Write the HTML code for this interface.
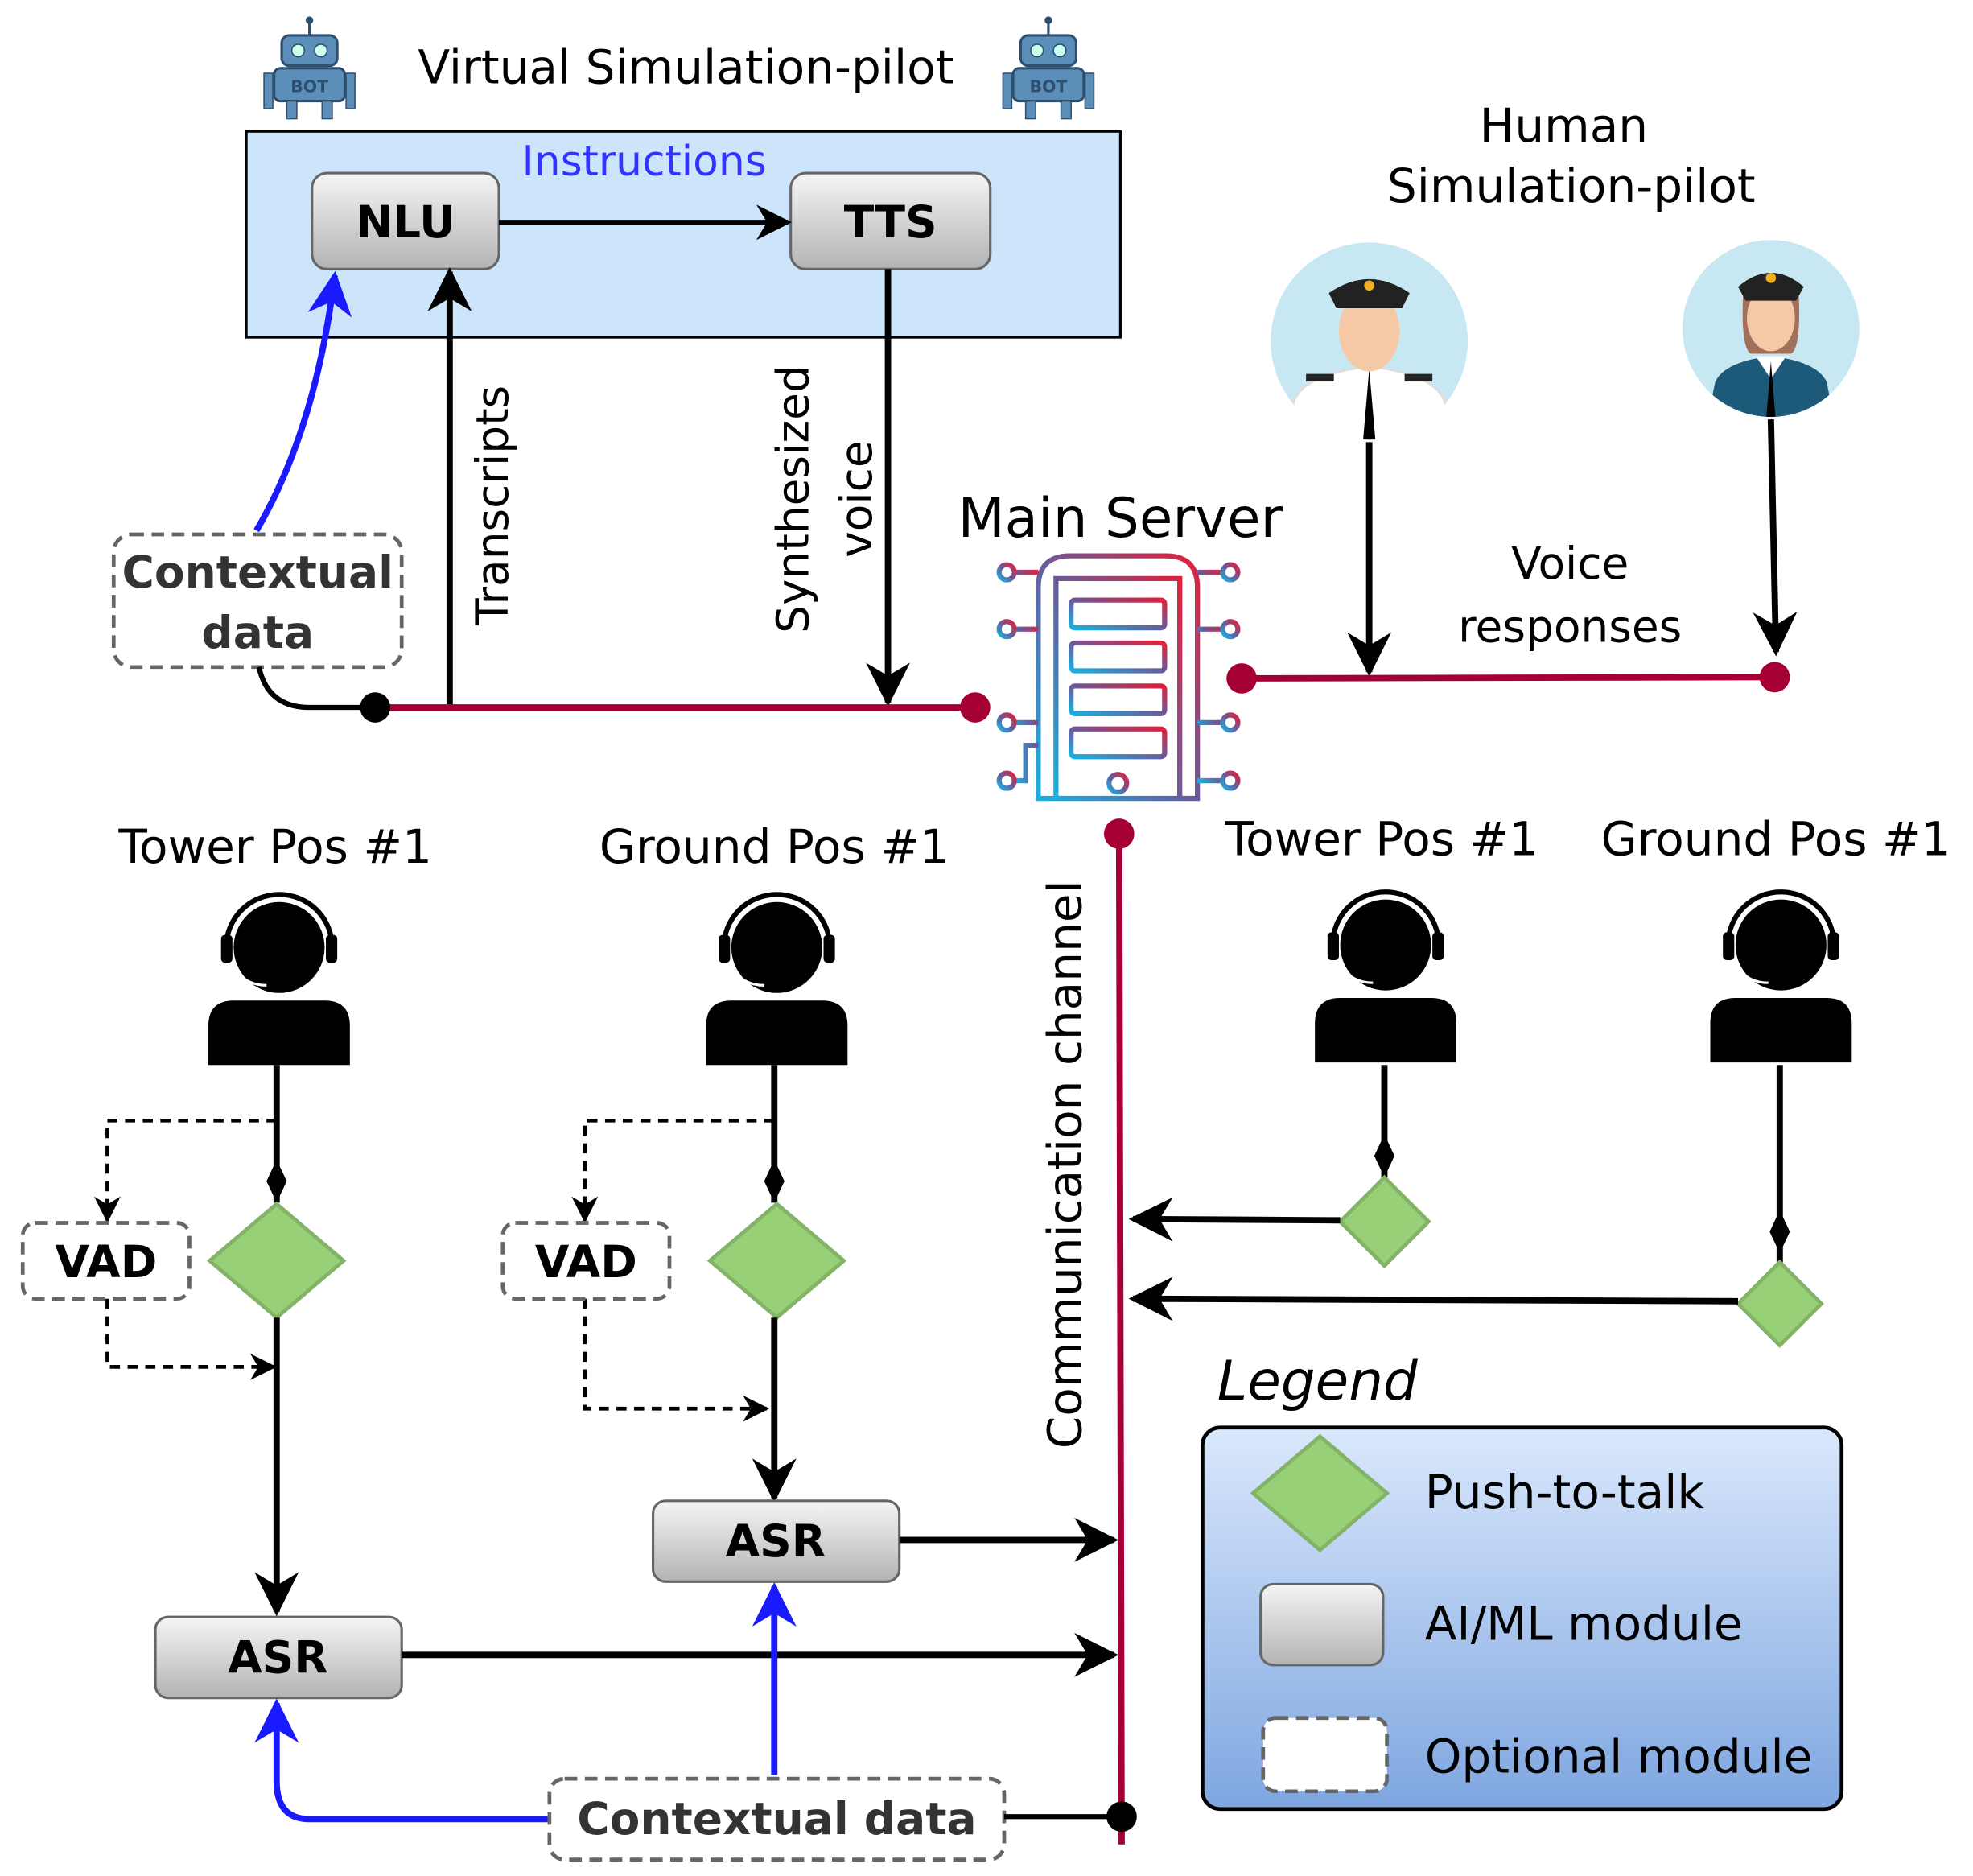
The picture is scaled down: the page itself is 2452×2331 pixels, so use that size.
<!DOCTYPE html>
<html><head><meta charset="utf-8"><style>html,body{margin:0;padding:0;background:#fff}svg{display:block}text{font-family:"DejaVu Sans","Liberation Sans",sans-serif}</style></head>
<body>
<svg width="2452" height="2331" viewBox="0 0 1562 1485" preserveAspectRatio="none" xmlns="http://www.w3.org/2000/svg">
<defs>
<marker id="ah" viewBox="0 0 10 10" refX="9" refY="5" markerWidth="7" markerHeight="7" orient="auto-start-reverse" markerUnits="strokeWidth"><path d="M0,0 L10,5 L0,10 L3,5 z" fill="#000"/></marker>
<marker id="ahb" viewBox="0 0 10 10" refX="9" refY="5" markerWidth="7" markerHeight="7" orient="auto" markerUnits="strokeWidth"><path d="M0,0 L10,5 L0,10 L3,5 z" fill="#1a1aff"/></marker>
<marker id="ahs" viewBox="0 0 10 10" refX="9" refY="5" markerWidth="7" markerHeight="7" orient="auto" markerUnits="strokeWidth"><path d="M0,0 L10,5 L0,10 L3,5 z" fill="#000"/></marker>
<linearGradient id="gr" x1="0" y1="0" x2="0" y2="1"><stop offset="0" stop-color="#f5f5f5"/><stop offset="1" stop-color="#b3b3b3"/></linearGradient>
<linearGradient id="lg" x1="0" y1="0" x2="0" y2="1"><stop offset="0" stop-color="#dae8fc"/><stop offset="1" stop-color="#7ea6e0"/></linearGradient>
<linearGradient id="sv" x1="0" y1="1" x2="1" y2="0"><stop offset="0" stop-color="#1ab0e0"/><stop offset="0.5" stop-color="#6a5a9a"/><stop offset="1" stop-color="#e0203a"/></linearGradient>
<clipPath id="c1"><circle cx="1084" cy="270" r="78"/></clipPath>
<clipPath id="c2"><circle cx="1402" cy="260" r="70"/></clipPath>
<g id="robot"><rect x="-22" y="-30" width="44" height="24" rx="6" fill="#5b8fb9" stroke="#2f4f6f" stroke-width="2"/><circle cx="-9" cy="-18" r="5" fill="#cfe" stroke="#2f4f6f"/><circle cx="9" cy="-18" r="5" fill="#cfe" stroke="#2f4f6f"/><line x1="0" y1="-30" x2="0" y2="-40" stroke="#2f4f6f" stroke-width="2"/><circle cx="0" cy="-42" r="3" fill="#2f4f6f"/><rect x="-28" y="-4" width="56" height="26" rx="5" fill="#5b8fb9" stroke="#2f4f6f" stroke-width="2"/><text x="0" y="15" font-size="13" font-weight="bold" text-anchor="middle" fill="#2f4f6f">BOT</text><rect x="-36" y="0" width="7" height="28" fill="#5b8fb9" stroke="#2f4f6f"/><rect x="29" y="0" width="7" height="28" fill="#5b8fb9" stroke="#2f4f6f"/><rect x="-18" y="22" width="8" height="14" fill="#5b8fb9" stroke="#2f4f6f"/><rect x="10" y="22" width="8" height="14" fill="#5b8fb9" stroke="#2f4f6f"/></g>
<g id="person"><circle cx="0" cy="0" r="36" fill="#000"/><path d="M-42,0 a42,42 0 0 1 84,0" fill="none" stroke="#000" stroke-width="4"/><rect x="-46" y="-10" width="9" height="22" rx="3" fill="#000"/><rect x="37" y="-10" width="9" height="22" rx="3" fill="#000"/><path d="M-34,18 q8,12 24,12" fill="none" stroke="#fff" stroke-width="2"/><path d="M-56,93 L-56,62 Q-56,42 -36,42 L36,42 Q56,42 56,62 L56,93 Z" fill="#000"/></g>
</defs>

<use href="#robot" x="245" y="58"/>
<use href="#robot" x="830" y="58"/>
<text x="543" y="66" font-size="37" text-anchor="middle">Virtual Simulation-pilot</text>
<rect x="195" y="104" width="692" height="163" fill="#cce5fb" stroke="#000" stroke-width="2"/>
<text x="510" y="139" font-size="33" text-anchor="middle" fill="#3333ff">Instructions</text>
<rect x="247" y="137" width="148" height="76" rx="12" fill="url(#gr)" stroke="#666" stroke-width="2"/>
<text x="321" y="188" font-size="35" font-weight="bold" text-anchor="middle">NLU</text>
<rect x="626" y="137" width="158" height="76" rx="12" fill="url(#gr)" stroke="#666" stroke-width="2"/>
<text x="705" y="188" font-size="35" font-weight="bold" text-anchor="middle">TTS</text>
<line x1="395" y1="176" x2="624" y2="176" stroke="#000" stroke-width="4" marker-end="url(#ah)"/>
<line x1="356" y1="560" x2="356" y2="215" stroke="#000" stroke-width="5" marker-end="url(#ah)"/>
<text transform="translate(402,400) rotate(-90)" font-size="35" text-anchor="middle">Transcripts</text>
<line x1="703" y1="213" x2="703" y2="556" stroke="#000" stroke-width="5" marker-end="url(#ah)"/>
<text transform="translate(640,395) rotate(-90)" font-size="35" text-anchor="middle">Synthesized</text>
<text transform="translate(690,395) rotate(-90)" font-size="35" text-anchor="middle">voice</text>
<path d="M203,420 Q250,340 265,218" fill="none" stroke="#1a1aff" stroke-width="5" marker-end="url(#ahb)"/>
<rect x="90" y="423" width="228" height="105" rx="14" fill="#fff" stroke="#666" stroke-width="3" stroke-dasharray="10,6"/>
<text x="204" y="465" font-size="35" font-weight="bold" text-anchor="middle" fill="#333">Contextual</text>
<text x="204" y="513" font-size="35" font-weight="bold" text-anchor="middle" fill="#333">data</text>
<path d="M205,528 Q212,560 245,560 L297,560" fill="none" stroke="#000" stroke-width="4"/>
<line x1="297" y1="560" x2="772" y2="560" stroke="#a50034" stroke-width="5"/>
<circle cx="297" cy="560" r="12" fill="#000"/>
<circle cx="772" cy="560" r="12" fill="#a50034"/>

<text x="887" y="425" font-size="43" text-anchor="middle">Main Server</text>
<g fill="none" stroke="url(#sv)" stroke-width="4">
<path d="M822,632 L822,465 Q822,440 847,440 L923,440 Q948,440 948,465 L948,632 Z"/>
<path d="M836,632 L836,458 L934,458 L934,632"/>
<rect x="848" y="475" width="74" height="22" rx="3"/><rect x="848" y="509" width="74" height="22" rx="3"/><rect x="848" y="543" width="74" height="22" rx="3"/><rect x="848" y="577" width="74" height="22" rx="3"/>
<path d="M803,453 L822,453 M803,498 L822,498 M803,572 L822,572 M803,618 L812,618 L812,590 L822,590"/>
<path d="M948,453 L968,453 M948,498 L968,498 M948,572 L968,572 M948,618 L968,618"/>
<circle cx="797" cy="453" r="6"/><circle cx="797" cy="498" r="6"/><circle cx="797" cy="572" r="6"/><circle cx="797" cy="618" r="6"/>
<circle cx="974" cy="453" r="6"/><circle cx="974" cy="498" r="6"/><circle cx="974" cy="572" r="6"/><circle cx="974" cy="618" r="6"/>
<circle cx="885" cy="620" r="7"/>
</g>

<text x="1238" y="112" font-size="37" text-anchor="middle">Human</text>
<text x="1244" y="160" font-size="37" text-anchor="middle">Simulation-pilot</text>
<circle cx="1084" cy="270" r="78" fill="#c7e7f3"/>
<g clip-path="url(#c1)">
<path d="M1020,360 L1024,318 Q1032,296 1084,290 Q1136,296 1144,318 L1148,360Z" fill="#fff" stroke="#ddd" stroke-width="2"/>
<rect x="1034" y="296" width="22" height="6" fill="#222"/><rect x="1112" y="296" width="22" height="6" fill="#222"/>
<path d="M1084,292 L1079,350 L1089,350Z" fill="#000"/>
</g>
<ellipse cx="1084" cy="262" rx="24" ry="32" fill="#f5c9a6"/>
<path d="M1052,232 Q1084,210 1116,232 L1110,244 L1058,244Z" fill="#222"/>
<circle cx="1084" cy="226" r="4" fill="#f0b020"/>
<circle cx="1402" cy="260" r="70" fill="#c7e7f3"/>
<g clip-path="url(#c2)">
<path d="M1350,340 L1358,302 Q1366,286 1402,282 Q1438,286 1446,302 L1454,340Z" fill="#1d5a7a"/>
<path d="M1390,282 L1402,300 L1414,282Z" fill="#fff"/>
<path d="M1402,286 L1398,335 L1406,335Z" fill="#000"/>
</g>
<path d="M1380,232 Q1378,275 1386,280 L1418,280 Q1426,275 1424,232Z" fill="#a0705a"/>
<ellipse cx="1402" cy="252" rx="19" ry="26" fill="#f5c9a6"/>
<path d="M1376,227 Q1402,205 1428,227 L1422,238 L1382,238Z" fill="#222"/>
<circle cx="1402" cy="220" r="4" fill="#f0b020"/>
<line x1="1084" y1="350" x2="1084" y2="532" stroke="#000" stroke-width="5" marker-end="url(#ah)"/>
<line x1="1402" y1="332" x2="1406" y2="516" stroke="#000" stroke-width="5" marker-end="url(#ah)"/>
<text x="1243" y="458" font-size="35" text-anchor="middle">Voice</text>
<text x="1243" y="508" font-size="35" text-anchor="middle">responses</text>
<line x1="983" y1="537" x2="1405" y2="536" stroke="#a50034" stroke-width="5"/>
<circle cx="983" cy="537" r="12" fill="#a50034"/>
<circle cx="1405" cy="536" r="12" fill="#a50034"/>

<line x1="886" y1="660" x2="888" y2="1460" stroke="#a50034" stroke-width="5"/>
<circle cx="886" cy="660" r="12" fill="#a50034"/>
<text transform="translate(856,922) rotate(-90)" font-size="37" text-anchor="middle">Communication channel</text>

<text x="218" y="683" font-size="37" text-anchor="middle">Tower Pos #1</text>
<text x="613" y="683" font-size="37" text-anchor="middle">Ground Pos #1</text>
<text x="1094" y="677" font-size="37" text-anchor="middle">Tower Pos #1</text>
<text x="1406" y="677" font-size="37" text-anchor="middle">Ground Pos #1</text>
<use href="#person" x="221" y="750"/>
<use href="#person" x="615" y="750"/>
<use href="#person" x="1097" y="748"/>
<use href="#person" x="1410" y="748"/>

<line x1="219" y1="843" x2="219" y2="952" stroke="#000" stroke-width="5"/>
<path d="M219,918 L227,935 L219,952 L211,935Z" fill="#000"/>
<path d="M219,953 L272,998 L219,1043 L166,998Z" fill="#97d077" stroke="#82b366" stroke-width="3"/>
<line x1="219" y1="1043" x2="219" y2="1276" stroke="#000" stroke-width="5" marker-end="url(#ah)"/>
<path d="M219,887 L85,887 L85,966" fill="none" stroke="#000" stroke-width="3" stroke-dasharray="8,6" marker-end="url(#ahs)"/>
<path d="M85,1028 L85,1082 L217,1082" fill="none" stroke="#000" stroke-width="3" stroke-dasharray="8,6" marker-end="url(#ahs)"/>
<rect x="18" y="968" width="132" height="60" rx="10" fill="#fff" stroke="#666" stroke-width="3" stroke-dasharray="10,6"/>
<text x="84" y="1011" font-size="35" font-weight="bold" text-anchor="middle">VAD</text>
<rect x="123" y="1280" width="195" height="64" rx="10" fill="url(#gr)" stroke="#666" stroke-width="2"/>
<text x="220" y="1324" font-size="35" font-weight="bold" text-anchor="middle">ASR</text>
<line x1="318" y1="1310" x2="882" y2="1310" stroke="#000" stroke-width="5" marker-end="url(#ah)"/>

<line x1="613" y1="843" x2="613" y2="952" stroke="#000" stroke-width="5"/>
<path d="M613,918 L621,935 L613,952 L605,935Z" fill="#000"/>
<path d="M615,953 L668,998 L615,1043 L562,998Z" fill="#97d077" stroke="#82b366" stroke-width="3"/>
<line x1="613" y1="1043" x2="613" y2="1186" stroke="#000" stroke-width="5" marker-end="url(#ah)"/>
<path d="M613,887 L463,887 L463,966" fill="none" stroke="#000" stroke-width="3" stroke-dasharray="8,6" marker-end="url(#ahs)"/>
<path d="M463,1028 L463,1115 L607,1115" fill="none" stroke="#000" stroke-width="3" stroke-dasharray="8,6" marker-end="url(#ahs)"/>
<rect x="398" y="968" width="132" height="60" rx="10" fill="#fff" stroke="#666" stroke-width="3" stroke-dasharray="10,6"/>
<text x="464" y="1011" font-size="35" font-weight="bold" text-anchor="middle">VAD</text>
<rect x="517" y="1188" width="195" height="64" rx="10" fill="url(#gr)" stroke="#666" stroke-width="2"/>
<text x="614" y="1232" font-size="35" font-weight="bold" text-anchor="middle">ASR</text>
<line x1="712" y1="1219" x2="882" y2="1219" stroke="#000" stroke-width="5" marker-end="url(#ah)"/>

<line x1="613" y1="1405" x2="613" y2="1256" stroke="#1a1aff" stroke-width="5" marker-end="url(#ahb)"/>
<path d="M435,1440 L245,1440 Q219,1440 219,1410 L219,1348" fill="none" stroke="#1a1aff" stroke-width="5" marker-end="url(#ahb)"/>
<rect x="435" y="1408" width="360" height="64" rx="12" fill="#fff" stroke="#666" stroke-width="3" stroke-dasharray="10,6"/>
<text x="615" y="1452" font-size="35" font-weight="bold" text-anchor="middle" fill="#333">Contextual data</text>
<line x1="795" y1="1438" x2="886" y2="1438" stroke="#000" stroke-width="4"/>
<circle cx="888" cy="1438" r="12" fill="#000"/>

<line x1="1096" y1="843" x2="1096" y2="935" stroke="#000" stroke-width="5"/>
<path d="M1096,898 L1104,915 L1096,932 L1088,915Z" fill="#000"/>
<path d="M1096,932 L1131,967 L1096,1002 L1061,967Z" fill="#97d077" stroke="#82b366" stroke-width="3"/>
<line x1="1061" y1="966" x2="897" y2="965" stroke="#000" stroke-width="5" marker-end="url(#ah)"/>
<line x1="1409" y1="843" x2="1409" y2="1000" stroke="#000" stroke-width="5"/>
<path d="M1409,958 L1417,975 L1409,992 L1401,975Z" fill="#000"/>
<path d="M1409,999 L1442,1032 L1409,1065 L1376,1032Z" fill="#97d077" stroke="#82b366" stroke-width="3"/>
<line x1="1376" y1="1030" x2="897" y2="1028" stroke="#000" stroke-width="5" marker-end="url(#ah)"/>

<text x="1043" y="1108" font-size="43" font-style="italic" text-anchor="middle">Legend</text>
<rect x="952" y="1130" width="506" height="302" rx="14" fill="url(#lg)" stroke="#000" stroke-width="3"/>
<path d="M1045,1137 L1098,1182 L1045,1227 L992,1182Z" fill="#97d077" stroke="#82b366" stroke-width="3"/>
<text x="1128" y="1194" font-size="37">Push-to-talk</text>
<rect x="998" y="1254" width="97" height="64" rx="10" fill="url(#gr)" stroke="#666" stroke-width="2"/>
<text x="1128" y="1298" font-size="37">AI/ML module</text>
<rect x="1000" y="1360" width="98" height="58" rx="10" fill="#fff" stroke="#666" stroke-width="3" stroke-dasharray="10,6"/>
<text x="1128" y="1403" font-size="37">Optional module</text>
</svg>
</body></html>
